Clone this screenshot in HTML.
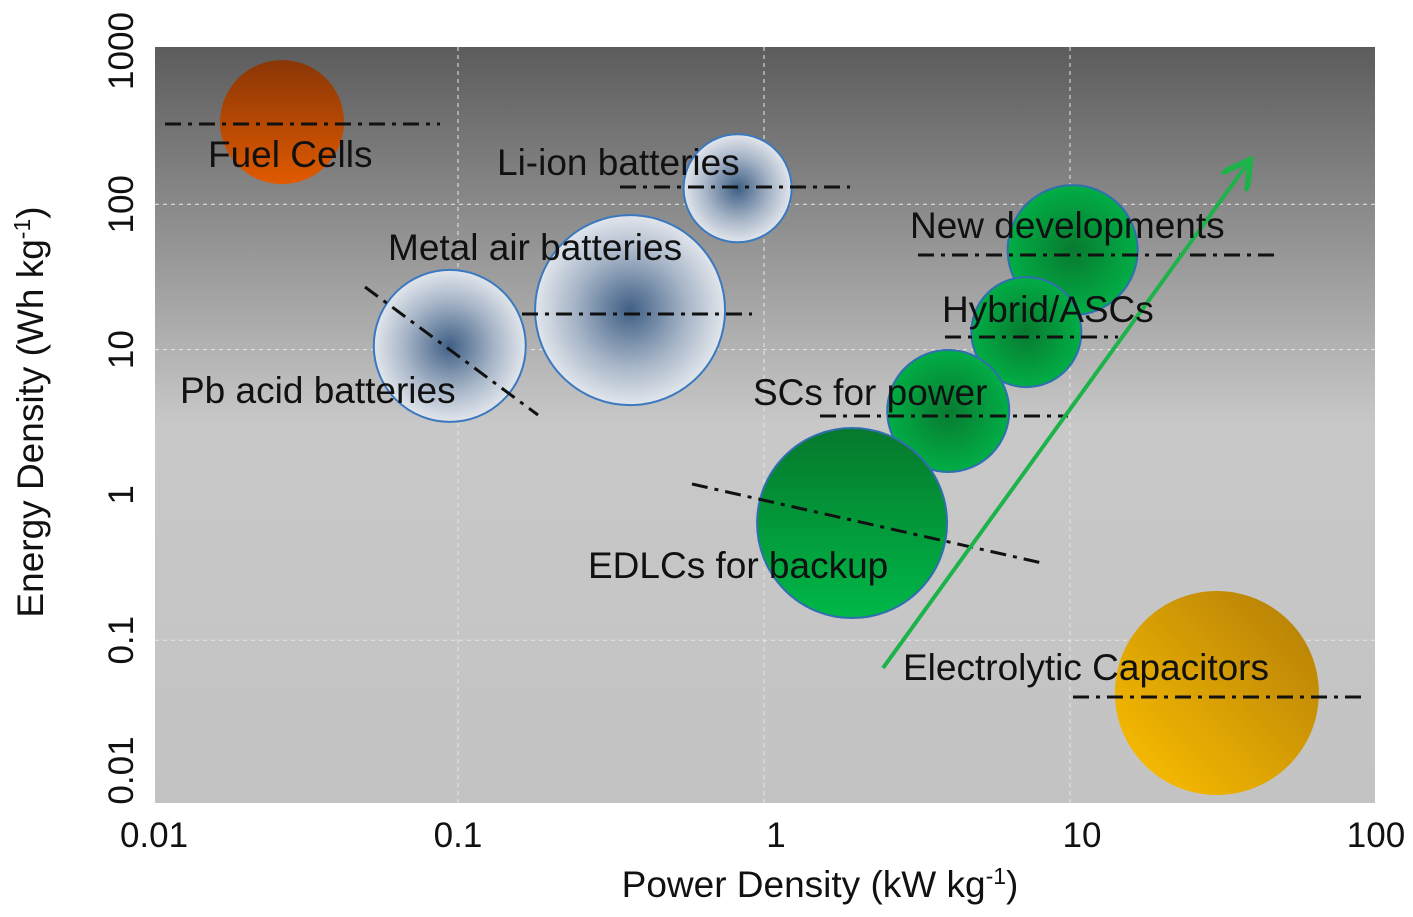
<!DOCTYPE html>
<html><head><meta charset="utf-8"><style>
body{margin:0;background:#fff;}
svg{display:block;font-family:"Liberation Sans",Arial,sans-serif;}
</style></head><body>
<svg id="chart" width="1413" height="917" viewBox="0 0 1413 917">
<defs>
<linearGradient id="bg" x1="0" y1="0" x2="0" y2="1">
<stop offset="0" stop-color="#5c5c5c"/><stop offset="0.5" stop-color="#c8c8c8"/><stop offset="1" stop-color="#c3c3c3"/>
</linearGradient>
<radialGradient id="blue"><stop offset="0" stop-color="#3f5f85"/><stop offset="0.6" stop-color="#a8b6c8"/><stop offset="1" stop-color="#e2e6ec"/></radialGradient>
<linearGradient id="green" x1="0" y1="0" x2="0" y2="1"><stop offset="0" stop-color="#06782c"/><stop offset="1" stop-color="#00b848"/></linearGradient>
<radialGradient id="greenr" cx="0.5" cy="0.5" r="0.6"><stop offset="0" stop-color="#087a30"/><stop offset="1" stop-color="#00b84a"/></radialGradient>
<linearGradient id="orange" x1="0" y1="0" x2="0" y2="1"><stop offset="0" stop-color="#8a3606"/><stop offset="1" stop-color="#e05a00"/></linearGradient>
<linearGradient id="gold" x1="1" y1="0" x2="0" y2="1"><stop offset="0" stop-color="#b07b08"/><stop offset="1" stop-color="#ffc200"/></linearGradient>
<marker id="ah" markerWidth="8" markerHeight="8" refX="6" refY="4" orient="auto" markerUnits="strokeWidth"><path d="M0,0 L7,4 L0,8" fill="none" stroke="#1eb24a" stroke-width="1.5"/></marker>
</defs>
<rect x="155" y="47" width="1220" height="756" fill="url(#bg)"/>
<g id="grid"></g>
<g id="bubbles"></g>
<g stroke="#111" stroke-width="3" stroke-dasharray="16,7,4,7" fill="none">
<line x1="165" y1="124" x2="440" y2="124"/>
<line x1="620" y1="187" x2="850" y2="187"/>
<line x1="522" y1="314" x2="752" y2="314"/>
<line x1="365" y1="287" x2="538" y2="415"/>
<line x1="918" y1="255" x2="1278" y2="255"/>
<line x1="945" y1="337" x2="1118" y2="337"/>
<line x1="820" y1="416" x2="1068" y2="416"/>
<line x1="692" y1="484" x2="1042" y2="563"/>
<line x1="1073" y1="697" x2="1362" y2="697"/>
</g>
<line x1="883" y1="668" x2="1248" y2="163" stroke="#1eb24a" stroke-width="4" marker-end="url(#ah)"/>
<g id="labels" font-size="37" fill="#111"></g>
<g id="ticks" font-size="35" fill="#111"></g>
<text x="820" y="897" font-size="37" text-anchor="middle" fill="#111">Power Density (kW kg<tspan dy="-13" font-size="23">-1</tspan><tspan dy="13">)</tspan></text>
<text transform="translate(43,412) rotate(-90)" font-size="37" text-anchor="middle" fill="#111">Energy Density (Wh kg<tspan dy="-13" font-size="23">-1</tspan><tspan dy="13">)</tspan></text>
</svg>
<script>
const names=["Fuel Cells","Li-ion batteries","Metal air batteries","Pb acid batteries","New developments","Hybrid/ASCs","SCs for power","EDLCs for backup","Electrolytic Capacitors"];
const powerVals=[0.0266,0.82,0.365,0.094,10.2,7.2,4.0,1.94,30.2];
const energyVals=[368,129,18.7,10.6,48.4,13.2,3.78,0.64,0.0433];
const radii=[62,54,95,76,65,55,61,95,102];
const fills=["orange","blue","blue","blue","greenr","greenr","greenr","green","gold"];
const xTicks=[0.01,0.1,1,10,100];
const xTickLabels=["0.01","0.1","1","10","100"];
const yTicks=[0.01,0.1,1,10,100,1000];
const yTickLabels=["0.01","0.1","1","10","100","1000"];
const labelPos=[[208,167],[497,175],[388,260],[180,403],[910,238],[942,322],[753,405],[588,578],[903,680]];
const X=v=>152+(Math.log10(v)+2)*306;
const Y=v=>59+(3-Math.log10(v))*145.3;
const ns="http://www.w3.org/2000/svg";
const g=document.getElementById('grid');
[0.1,1,10].forEach(t=>{const l=document.createElementNS(ns,'line');


l.setAttribute('x1',X(t));l.setAttribute('x2',X(t));l.setAttribute('y1',47);l.setAttribute('y2',803);
l.setAttribute('stroke','#e8e8e8');l.setAttribute('stroke-dasharray','4,4');g.appendChild(l);});
[0.1,10,100].forEach(t=>{const l=document.createElementNS(ns,'line');


l.setAttribute('y1',Y(t));l.setAttribute('y2',Y(t));l.setAttribute('x1',155);l.setAttribute('x2',1375);
l.setAttribute('stroke','#e8e8e8');l.setAttribute('stroke-dasharray','4,4');g.appendChild(l);});
const b=document.getElementById('bubbles');
names.forEach((n,i)=>{const c=document.createElementNS(ns,'circle');


c.setAttribute('cx',X(powerVals[i]));c.setAttribute('cy',Y(energyVals[i]));c.setAttribute('r',radii[i]);
c.setAttribute('fill','url(#'+fills[i]+')');
c.setAttribute('stroke',fills[i]==='blue'?'#3a78c0':(fills[i].startsWith('green')?'#2f6fb0':'none'));
c.setAttribute('stroke-width','2');b.appendChild(c);});
const lg=document.getElementById('labels');
names.forEach((n,i)=>{const t=document.createElementNS(ns,'text');


t.setAttribute('x',labelPos[i][0]);t.setAttribute('y',labelPos[i][1]);t.textContent=n;lg.appendChild(t);});
const tk=document.getElementById('ticks');
xTicks.forEach((v,i)=>{const t=document.createElementNS(ns,'text');


t.setAttribute('x',X(v)+(i===2?12:(i===3?12:(i===0?2:0))));t.setAttribute('y',847);t.setAttribute('text-anchor','middle');t.textContent=xTickLabels[i];tk.appendChild(t);});
yTicks.forEach((v,i)=>{const t=document.createElementNS(ns,'text');


const yy=Y(v)+(i===0?-15:(i===5?-8:0));
t.setAttribute('transform','translate(133,'+yy+') rotate(-90)');t.setAttribute('text-anchor','middle');t.textContent=yTickLabels[i];tk.appendChild(t);});
</script>
</body></html>
